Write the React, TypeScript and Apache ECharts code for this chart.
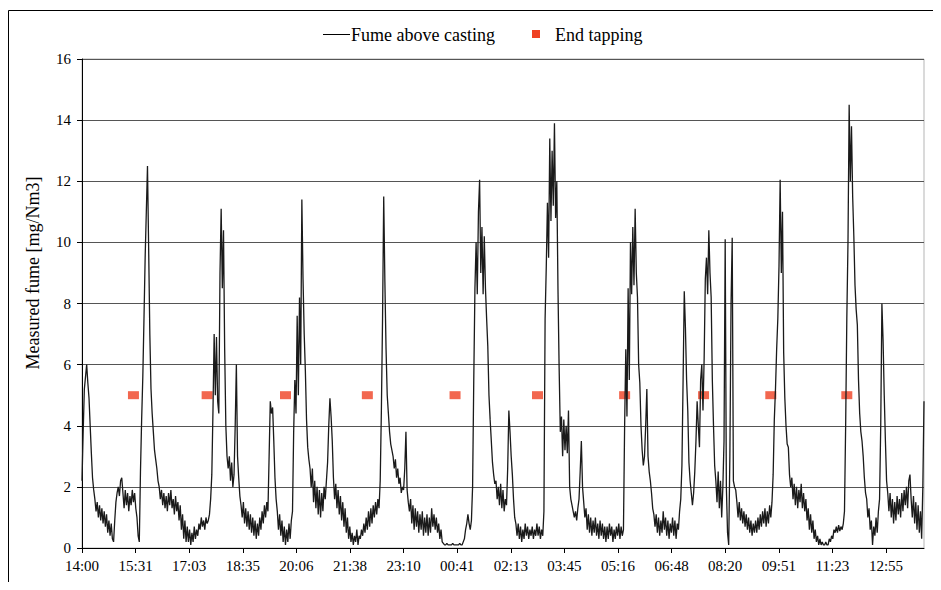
import React, { useEffect, useRef } from "react";
import * as echarts from "echarts";

// X axis: minutes after 14:00, ticks every 91 min 40 s
const xTickLabels = ["14:00", "15:31", "17:03", "18:35", "20:06", "21:38", "23:10", "00:41", "02:13", "03:45", "05:16", "06:48", "08:20", "09:51", "11:23", "12:55"];
const xTickStepMin = 275 / 3;
const xMaxMin = 1440;

// Y axis
const yMin = 0;
const yMax = 16;
const yStep = 2;

// End of tapping events (minutes after 14:00) and the level they are shown at
const tappingMinutes = [88, 214, 348, 488, 638, 779, 928, 1063, 1178, 1308];
const tappingLevel = 5;

// Fume above casting [mg/Nm3]; each row starts at 20*row minutes, one value every 2 minutes
const rowSpanMin = 20;
const sampleStepMin = 2;
const fumeRows: number[][] = [
  [2.2, 3.8, 5.2, 5.6, 6.0, 5.4, 4.9, 4.0, 3.1, 2.3],
  [1.9, 1.6, 1.2, 1.5, 1.0, 1.4, 0.9, 1.3, 0.8, 1.2],
  [0.7, 1.1, 0.5, 0.9, 0.4, 0.8, 0.3, 0.2, 0.9, 1.5],
  [1.8, 2.0, 1.7, 2.2, 2.3, 1.8, 1.3, 1.9, 1.4, 1.8],
  [1.2, 1.7, 1.4, 1.9, 1.5, 1.8, 1.3, 1.0, 0.4, 0.2],
  [2.5, 4.2, 5.6, 7.5, 9.5, 11.0, 12.5, 9.8, 7.0, 5.2],
  [4.4, 3.8, 3.2, 2.9, 2.6, 2.2, 2.0, 1.6, 1.9, 1.4],
  [1.8, 1.3, 1.7, 1.2, 1.8, 1.4, 1.9, 1.3, 1.6, 1.1],
  [1.7, 1.2, 1.5, 0.9, 1.4, 0.6, 1.1, 0.3, 0.9, 0.2],
  [0.7, 0.2, 0.6, 0.1, 0.5, 0.2, 0.7, 0.3, 0.6, 0.4],
  [0.8, 0.6, 1.0, 0.7, 0.9, 0.6, 1.0, 0.8, 0.9, 1.1],
  [1.6, 2.4, 4.5, 7.0, 5.0, 6.9, 4.8, 4.4, 9.0, 11.1],
  [8.5, 10.4, 6.5, 4.0, 3.0, 2.6, 3.0, 2.2, 2.8, 2.0],
  [2.4, 4.0, 6.0, 3.0, 2.3, 1.7, 1.4, 1.0, 1.5, 0.8],
  [1.3, 0.7, 1.2, 0.6, 1.1, 0.5, 1.0, 0.4, 0.9, 0.3],
  [0.8, 0.4, 1.0, 0.6, 1.2, 0.8, 1.4, 1.0, 1.5, 1.2],
  [3.0, 4.8, 4.4, 4.6, 3.5, 2.3, 1.6, 1.2, 0.6, 1.1],
  [0.4, 0.9, 0.2, 0.7, 0.1, 0.6, 0.2, 0.8, 0.3, 0.9],
  [1.2, 3.8, 5.5, 4.4, 7.6, 5.0, 8.2, 6.0, 11.4, 8.8],
  [7.0, 5.8, 4.2, 3.3, 2.9, 2.6, 2.0, 2.6, 1.5, 2.2],
  [1.3, 2.0, 1.1, 1.9, 1.0, 1.8, 1.2, 2.0, 1.6, 2.2],
  [2.8, 4.0, 4.9, 4.3, 3.5, 2.3, 1.6, 2.1, 1.3, 1.9],
  [1.1, 1.7, 0.9, 1.5, 0.7, 1.3, 0.5, 1.0, 0.3, 0.7],
  [0.2, 0.5, 0.1, 0.4, 0.2, 0.6, 0.1, 0.4, 0.3, 0.6],
  [0.4, 0.8, 0.5, 1.0, 0.6, 1.2, 0.7, 1.3, 0.8, 1.4],
  [1.0, 1.5, 1.1, 1.6, 1.3, 2.2, 4.5, 7.5, 11.5, 8.7],
  [6.5, 5.0, 4.4, 3.8, 3.4, 3.2, 3.0, 2.6, 2.9, 2.3],
  [2.6, 2.1, 2.3, 1.8, 2.0, 1.9, 2.6, 3.8, 1.9, 1.5],
  [1.2, 1.6, 0.8, 1.4, 0.6, 1.3, 0.7, 1.2, 0.5, 1.1],
  [0.6, 1.2, 0.4, 1.0, 0.5, 1.1, 0.4, 1.0, 0.5, 1.3],
  [0.7, 1.1, 0.6, 1.0, 0.5, 0.8, 0.3, 0.6, 0.2, 0.15],
  [0.1, 0.1, 0.15, 0.1, 0.1, 0.1, 0.1, 0.15, 0.1, 0.1],
  [0.1, 0.1, 0.1, 0.15, 0.1, 0.1, 0.2, 0.3, 0.6, 0.8],
  [1.1, 0.8, 0.6, 0.9, 2.0, 5.5, 8.5, 10.0, 8.3, 11.0],
  [12.05, 9.0, 10.5, 8.3, 10.2, 8.5, 7.5, 6.6, 5.0, 4.2],
  [3.5, 2.8, 2.4, 2.1, 2.2, 1.6, 2.0, 1.4, 2.1, 1.3],
  [1.9, 1.2, 1.6, 1.4, 2.6, 4.5, 3.8, 3.0, 2.4, 1.6],
  [1.0, 0.8, 0.4, 0.8, 0.3, 0.7, 0.2, 0.6, 0.3, 0.8],
  [0.4, 0.7, 0.3, 0.6, 0.4, 0.7, 0.3, 0.6, 0.4, 0.8],
  [0.4, 0.7, 0.3, 0.6, 0.4, 1.2, 7.5, 9.2, 11.3, 9.5],
  [13.4, 10.7, 13.0, 11.2, 13.9, 10.8, 12.0, 8.5, 5.9, 3.8],
  [4.3, 3.0, 4.2, 3.2, 4.0, 3.1, 4.5, 2.0, 1.6, 1.4],
  [1.2, 1.0, 1.2, 0.9, 1.3, 1.6, 2.5, 3.5, 2.0, 1.5],
  [1.0, 1.3, 0.6, 1.1, 0.5, 1.0, 0.4, 0.9, 0.5, 1.0],
  [0.4, 0.8, 0.3, 0.9, 0.4, 0.8, 0.3, 0.7, 0.2, 0.7],
  [0.3, 0.8, 0.4, 0.7, 0.2, 0.6, 0.3, 0.7, 0.4, 0.8],
  [0.3, 0.7, 0.4, 0.6, 4.0, 6.5, 4.3, 8.5, 5.5, 10.0],
  [8.3, 10.5, 8.6, 11.1, 9.0, 8.2, 6.0, 5.4, 4.0, 3.2],
  [2.7, 3.0, 4.0, 5.2, 3.0, 2.5, 2.2, 1.8, 1.3, 1.1],
  [0.7, 1.1, 0.5, 1.0, 0.4, 0.9, 0.5, 1.2, 0.6, 1.0],
  [0.4, 0.9, 0.3, 0.8, 0.5, 1.0, 0.4, 0.9, 0.3, 0.8],
  [0.6, 1.2, 1.6, 2.7, 5.5, 8.4, 7.2, 5.5, 4.5, 2.8],
  [2.2, 1.8, 1.4, 1.8, 2.5, 3.5, 4.8, 4.0, 3.3, 5.5],
  [6.0, 4.5, 6.2, 8.8, 9.5, 8.3, 10.4, 9.0, 8.2, 5.5],
  [4.0, 2.7, 2.2, 1.5, 2.5, 1.3, 2.2, 1.0, 2.0, 3.5],
  [10.1, 2.0, 0.5, 0.1, 3.0, 8.0, 10.15, 2.2, 2.0, 1.9],
  [1.5, 1.0, 1.5, 0.9, 1.3, 0.8, 1.2, 0.7, 1.1, 0.6],
  [1.0, 0.5, 0.9, 0.4, 0.8, 0.5, 0.9, 0.5, 1.0, 0.6],
  [1.1, 0.7, 1.2, 0.8, 1.3, 0.7, 1.2, 0.8, 1.4, 1.0],
  [1.5, 2.4, 4.2, 5.2, 6.5, 7.5, 9.2, 12.05, 9.0, 11.0],
  [6.4, 4.9, 4.0, 3.4, 3.3, 2.4, 2.0, 2.3, 1.6, 2.1],
  [1.4, 2.0, 1.3, 1.9, 1.5, 2.1, 1.3, 1.8, 1.2, 1.6],
  [0.9, 1.3, 0.6, 1.1, 0.5, 0.9, 0.3, 0.6, 0.2, 0.4],
  [0.1, 0.3, 0.1, 0.2, 0.1, 0.1, 0.2, 0.1, 0.1, 0.3],
  [0.2, 0.4, 0.3, 0.6, 0.5, 0.7, 0.5, 0.75, 0.55, 0.7],
  [0.6, 0.8, 1.2, 4.0, 7.5, 10.0, 14.5, 12.0, 13.8, 11.5],
  [10.2, 8.6, 7.8, 7.3, 5.5, 4.4, 3.8, 3.5, 3.0, 2.3],
  [1.8, 1.6, 1.0, 1.3, 0.6, 0.9, 0.1, 0.7, 0.4, 1.0],
  [0.5, 1.2, 1.6, 4.0, 8.0, 6.8, 5.0, 3.5, 2.2, 1.8],
  [1.2, 1.8, 1.0, 1.6, 0.8, 1.5, 0.9, 1.7, 1.1, 1.6],
  [1.0, 1.8, 1.2, 1.9, 1.4, 2.0, 1.3, 2.2, 2.4, 1.6],
  [1.0, 1.7, 0.8, 1.5, 0.6, 1.4, 0.5, 1.2, 0.3, 2.0],
  [4.8],
];

const seriesNames = ["Fume above casting", "End tapping"];
const yAxisTitle = "Measured fume [mg/Nm3]";

const FONT = "'Liberation Serif', 'Times New Roman', serif";

export default function App() {
  const ref = useRef<HTMLDivElement>(null);

  useEffect(() => {
    if (!ref.current) return;
    const chart = echarts.init(ref.current, undefined, { renderer: "svg" });

    const fumeData: [number, number][] = [];
    fumeRows.forEach((row, r) => {
      row.forEach((v, j) => {
        fumeData.push([r * rowSpanMin + j * sampleStepMin, v]);
      });
    });
    const tappingData = tappingMinutes.map((t) => [t, tappingLevel]);

    chart.setOption({
      animation: false,
      backgroundColor: "#ffffff",
      grid: {
        left: 82,
        right: 17,
        top: 59,
        bottom: 42,
        show: true,
        borderColor: "#b5b5b5",
        borderWidth: 1,
        backgroundColor: "transparent",
      },
      xAxis: {
        type: "value",
        min: 0,
        max: xMaxMin,
        interval: xTickStepMin,
        axisLine: { show: true, lineStyle: { color: "#000", width: 1 } },
        axisTick: { show: true, length: 5, lineStyle: { color: "#000" } },
        splitLine: { show: false },
        axisLabel: {
          color: "#000",
          fontFamily: FONT,
          fontSize: 15,
          margin: 10,
          showMaxLabel: false,
          formatter: (v: number) => {
            const k = Math.round(v / xTickStepMin);
            if (Math.abs(k * xTickStepMin - v) > 0.05) return "";
            return k >= 0 && k < xTickLabels.length ? xTickLabels[k] : "";
          },
        },
      },
      yAxis: {
        type: "value",
        min: yMin,
        max: yMax,
        interval: yStep,
        axisLine: { show: true, lineStyle: { color: "#000", width: 1 } },
        axisTick: { show: true, length: 5, lineStyle: { color: "#000" } },
        splitLine: { show: true, lineStyle: { color: "#555", width: 1 } },
        axisLabel: {
          color: "#000",
          fontFamily: FONT,
          fontSize: 15,
          margin: 11,
        },
      },
      series: [
        {
          name: seriesNames[0],
          type: "line",
          data: fumeData,
          symbol: "none",
          showSymbol: false,
          lineStyle: { color: "#1a1a1a", width: 1.3 },
          z: 3,
        },
        {
          name: seriesNames[1],
          type: "scatter",
          data: tappingData,
          symbol: "rect",
          symbolSize: [11, 8],
          itemStyle: { color: "#EF4123" },
          z: 2,
        },
      ],
      graphic: [
        {
          type: "rect",
          shape: { x: 8.5, y: 10.5, width: 931, height: 620 },
          style: { fill: "none", stroke: "#000", lineWidth: 1 },
          silent: true,
        },
        {
          type: "line",
          shape: { x1: 323, y1: 34.5, x2: 350, y2: 34.5 },
          style: { stroke: "#000", lineWidth: 1 },
        },
        {
          type: "text",
          x: 351,
          y: 35,
          style: {
            text: seriesNames[0],
            fill: "#000",
            font: `18px ${FONT}`,
            verticalAlign: "middle",
            align: "left",
          },
        },
        {
          type: "rect",
          shape: { x: 532, y: 30, width: 8, height: 8 },
          style: { fill: "#EF4123" },
        },
        {
          type: "text",
          x: 555,
          y: 35,
          style: {
            text: seriesNames[1],
            fill: "#000",
            font: `18px ${FONT}`,
            verticalAlign: "middle",
            align: "left",
          },
        },
        {
          type: "text",
          x: 33,
          y: 273,
          rotation: Math.PI / 2,
          style: {
            text: yAxisTitle,
            fill: "#000",
            font: `18px ${FONT}`,
            align: "center",
            verticalAlign: "middle",
          },
        },
      ],
    });

    return () => chart.dispose();
  }, []);

  return <div ref={ref} style={{ width: 941, height: 590, margin: -8 }} />;
}
